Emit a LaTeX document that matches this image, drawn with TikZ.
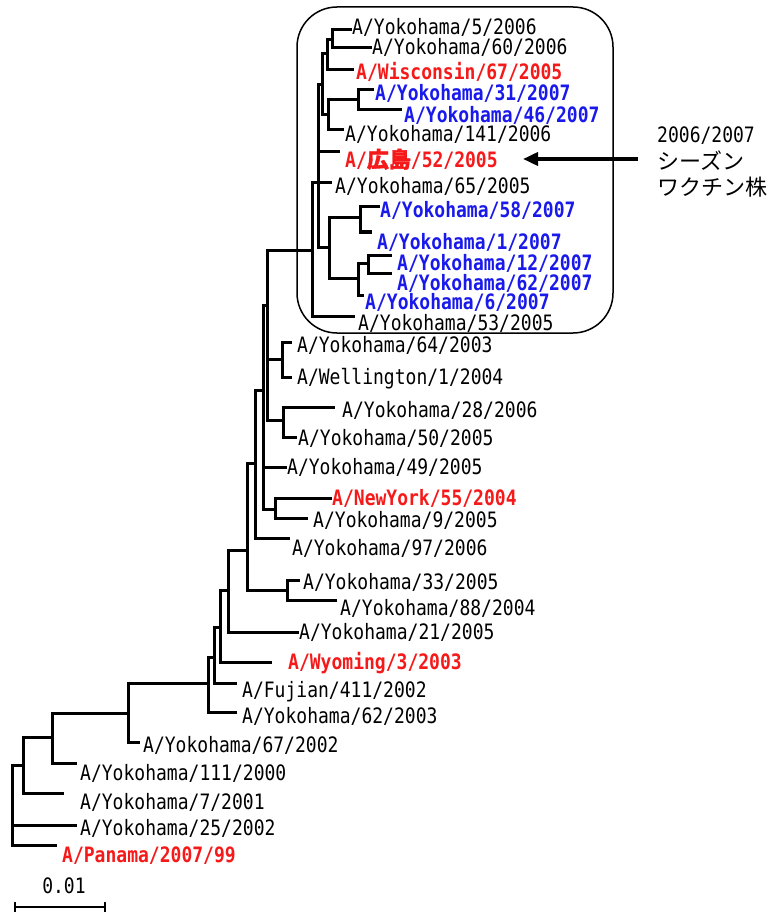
\documentclass[tikz,border=0pt]{standalone}
\usepackage{fontspec}
\usetikzlibrary{arrows.meta}
\newfontfamily\labfont[FakeStretch=0.85]{DejaVu Sans Mono}
\newfontfamily\cjk{Noto Sans CJK JP}
\newfontfamily\cjkb[FakeBold=1.5]{Noto Sans CJK JP}
\definecolor{tred}{RGB}{245,25,25}
\definecolor{tblue}{RGB}{25,25,235}
\tikzset{
  br/.style={line width=3pt, line cap=rect, line join=miter},
  lab/.style={anchor=base west, inner sep=0pt, yshift=-7.6pt, font=\labfont\fontsize{21.2}{24}\selectfont},
  labr/.style={lab, text=tred, font=\labfont\bfseries\fontsize{21.2}{24}\selectfont},
  labb/.style={lab, text=tblue, font=\labfont\bfseries\fontsize{21.2}{24}\selectfont},
  ann/.style={anchor=base west, inner sep=0pt, yshift=-7.8pt, font=\cjk\fontsize{22}{24}\selectfont},
  cladebox/.style={draw, line width=1.5pt, rounded corners=40pt},
  arr/.style={line width=3.6pt, -{Triangle[length=15pt,width=13pt]}}
}
\begin{document}
\begin{tikzpicture}[x=1pt,y=-1pt]
\useasboundingbox (0,0) rectangle (779,917);
% clade box
\draw[cladebox] (297,7) rectangle (613,333);
% ---- leaf branch ends
\coordinate (l5) at (350,30);   \node[lab]  (t5)   at (352,27)  {A/Yokohama/5/2006};
\coordinate (l60) at (370,48);  \node[lab]  (t60)  at (372,47)  {A/Yokohama/60/2006};
\coordinate (lwis) at (352,70); \node[labr] (twis) at (356,72)  {A/Wisconsin/67/2005};
\coordinate (l31) at (372,90);  \node[labb] (t31)  at (375,93)  {A/Yokohama/31/2007};
\coordinate (l46) at (400,110); \node[labb] (t46)  at (404,115) {A/Yokohama/46/2007};
\coordinate (l141) at (342,130);\node[lab]  (t141) at (345,134) {A/Yokohama/141/2006};
\coordinate (lhir) at (338,152);\node[labr] (thir) at (345,160) {A/{\cjkb\fontsize{22}{24}\selectfont 広島}/52/2005};
\coordinate (l65) at (330,183); \node[lab]  (t65)  at (335,186) {A/Yokohama/65/2005};
\coordinate (l58) at (378,207); \node[labb] (t58)  at (380,210) {A/Yokohama/58/2007};
\coordinate (l1) at (370,232);  \node[labb] (t1)   at (377,242) {A/Yokohama/1/2007};
\coordinate (l12) at (390,255); \node[labb] (t12)  at (397,263) {A/Yokohama/12/2007};
\coordinate (l62) at (390,273); \node[labb] (t62)  at (397,283) {A/Yokohama/62/2007};
\coordinate (l6) at (362,295);  \node[labb] (t6)   at (365,302) {A/Yokohama/6/2007};
\coordinate (l53) at (353,316); \node[lab]  (t53)  at (358,323) {A/Yokohama/53/2005};
\coordinate (l64) at (290,342); \node[lab]  (t64)  at (297,345) {A/Yokohama/64/2003};
\coordinate (lwel) at (290,377);\node[lab]  (twel) at (297,377) {A/Wellington/1/2004};
\coordinate (l28) at (333,407); \node[lab]  (t28)  at (342,410) {A/Yokohama/28/2006};
\coordinate (l50) at (295,437); \node[lab]  (t50)  at (298,438) {A/Yokohama/50/2005};
\coordinate (l49) at (285,467); \node[lab]  (t49)  at (287,467) {A/Yokohama/49/2005};
\coordinate (lny) at (330,498); \node[labr] (tny)  at (332,498) {A/NewYork/55/2004};
\coordinate (l9) at (306,518);  \node[lab]  (t9)   at (313,520) {A/Yokohama/9/2005};
\coordinate (l97) at (288,538); \node[lab]  (t97)  at (292,548) {A/Yokohama/97/2006};
\coordinate (l33) at (298,580); \node[lab]  (t33)  at (303,582) {A/Yokohama/33/2005};
\coordinate (l88) at (335,600); \node[lab]  (t88)  at (340,608) {A/Yokohama/88/2004};
\coordinate (l21) at (297,632); \node[lab]  (t21)  at (299,632) {A/Yokohama/21/2005};
\coordinate (lwy) at (270,662); \node[labr] (twy)  at (288,662) {A/Wyoming/3/2003};
\coordinate (lfu) at (235,683); \node[lab]  (tfu)  at (242,690) {A/Fujian/411/2002};
\coordinate (l62b) at (235,712);\node[lab]  (t62b) at (242,716) {A/Yokohama/62/2003};
\coordinate (l67) at (138,742); \node[lab]  (t67)  at (143,745) {A/Yokohama/67/2002};
\coordinate (l111) at (75,763); \node[lab]  (t111) at (80,773)  {A/Yokohama/111/2000};
\coordinate (l7) at (62,793);   \node[lab]  (t7)   at (80,802)  {A/Yokohama/7/2001};
\coordinate (l25) at (75,825);  \node[lab]  (t25)  at (80,828)  {A/Yokohama/25/2002};
\coordinate (lpa) at (55,845);  \node[labr] (tpa)  at (62,855)  {A/Panama/2007/99};
% ---- internal nodes
\coordinate (A1) at (332,40);
\coordinate (A) at (327,54);
\coordinate (B1) at (358,100);
\coordinate (B) at (328,115);
\coordinate (AB) at (322,85);
\coordinate (C1) at (360,218);
\coordinate (C2) at (368,263);
\coordinate (C3) at (358,278);
\coordinate (C) at (329,247);
\coordinate (N1) at (318,183);
\coordinate (R) at (312,250);
\coordinate (W) at (282,359);
\coordinate (Q) at (283,420);
\coordinate (N2a) at (267,305);
\coordinate (P) at (275,509);
\coordinate (N2b) at (263,390);
\coordinate (N3) at (255,463);
\coordinate (S) at (287,590);
\coordinate (N4) at (247,550);
\coordinate (N5) at (228,590);
\coordinate (N5p) at (220,627);
\coordinate (N6) at (214,657);
\coordinate (N7) at (208,683);
\coordinate (N8) at (128,713);
\coordinate (N9) at (52,737);
\coordinate (N10) at (23,765);
\coordinate (N11) at (12,805);
% ---- branches
\draw[br] (A1) |- (l5) (A1) |- (l60)
 (A) |- (A1) (A) |- (lwis)
 (B1) |- (l31) (B1) |- (l46)
 (B) |- (B1) (B) |- (l141)
 (AB) |- (A) (AB) |- (B)
 (C1) |- (l58) (C1) |- (l1)
 (C2) |- (l12) (C2) |- (l62)
 (C3) |- (C2) (C3) |- (l6)
 (C) |- (C1) (C) |- (C3)
 (N1) |- (AB) (N1) |- (lhir) (N1) |- (l65) (N1) |- (C)
 (R) |- (N1) (R) |- (l53)
 (W) |- (l64) (W) |- (lwel)
 (Q) |- (l28) (Q) |- (l50)
 (N2a) |- (R) (N2a) |- (W) (N2a) |- (Q)
 (P) |- (lny) (P) |- (l9)
 (N2b) |- (N2a) (N2b) |- (l49) (N2b) |- (P)
 (N3) |- (N2b) (N3) |- (l97)
 (S) |- (l33) (S) |- (l88)
 (N4) |- (N3) (N4) |- (S)
 (N5) |- (N4) (N5) |- (l21)
 (N5p) |- (N5) (N5p) |- (lwy)
 (N6) |- (N5p) (N6) |- (lfu)
 (N7) |- (N6) (N7) |- (l62b)
 (N8) |- (N7) (N8) |- (l67)
 (N9) |- (N8) (N9) |- (l111)
 (N10) |- (N9) (N10) |- (l7)
 (N11) |- (N10) (N11) |- (l25) (N11) |- (lpa);
% ---- annotation
\node[lab] (a1) at (657,135) {2006/2007};
\node[ann] (a2) at (657,162) {シーズン};
\node[ann] (a3) at (657,188) {ワクチン株};
\coordinate (arrs) at (638,159);
\coordinate (arrt) at (523,159);
\draw[arr] (arrs) -- (arrt);
% ---- scale bar
\coordinate (sbl) at (15,907);
\coordinate (sbr) at (105,907);
\draw[line width=2pt] (sbl) -- (sbr);
\draw[line width=2pt] (sbl) ++(0,-5) -- ++(0,10);
\draw[line width=2pt] (sbr) ++(0,-5) -- ++(0,10);
\node[lab, anchor=base] (sbt) at (64,886) {0.01};
\end{tikzpicture}
\end{document}
